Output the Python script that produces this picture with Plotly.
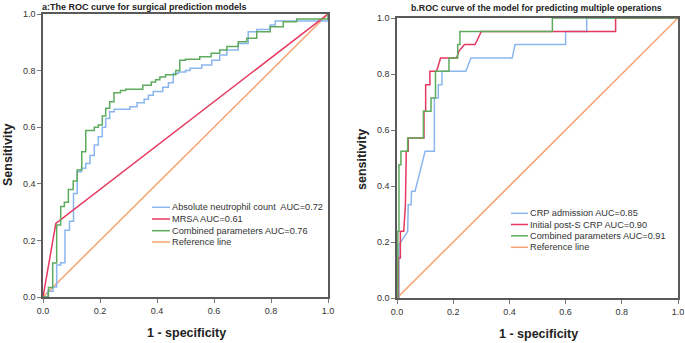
import plotly.graph_objects as go

# ---------------- Data: panel a (surgical prediction) ----------------
a_anc_fpr = [0, 0.017, 0.035, 0.048, 0.062, 0.077, 0.093, 0.107, 0.12, 0.135, 0.15, 0.165, 0.18, 0.194,
             0.208, 0.22, 0.234, 0.25, 0.305, 0.33, 0.355, 0.37, 0.387, 0.42, 0.44, 0.457, 0.475, 0.5,
             0.516, 0.557, 0.592, 0.62, 0.645, 0.685, 0.72, 0.75, 0.797, 0.815, 1.0]
a_anc_tpr = [0, 0.02, 0.035, 0.113, 0.121, 0.236, 0.268, 0.366, 0.443, 0.455, 0.472, 0.5, 0.537, 0.566,
             0.6, 0.631, 0.655, 0.663, 0.672, 0.686, 0.699, 0.713, 0.726, 0.741, 0.757, 0.79, 0.795, 0.8,
             0.808, 0.82, 0.837, 0.855, 0.873, 0.896, 0.937, 0.945, 0.961, 0.975, 1.0]
a_mrsa_fpr = [0, 0.045, 1.0]
a_mrsa_tpr = [0, 0.26, 1.0]
a_comb_fpr = [0, 0.019, 0.034, 0.048, 0.062, 0.075, 0.089, 0.106, 0.12, 0.136, 0.15, 0.18, 0.194, 0.208,
              0.22, 0.234, 0.249, 0.272, 0.29, 0.35, 0.38, 0.395, 0.41, 0.43, 0.466, 0.48, 0.5, 0.55,
              0.59, 0.62, 0.645, 0.685, 0.715, 0.75, 0.797, 0.843, 0.89, 1.0]
a_comb_tpr = [0, 0.034, 0.12, 0.254, 0.32, 0.335, 0.38, 0.41, 0.449, 0.513, 0.588, 0.6, 0.608, 0.64,
              0.667, 0.69, 0.722, 0.73, 0.734, 0.748, 0.76, 0.768, 0.777, 0.785, 0.8, 0.837, 0.84, 0.849,
              0.861, 0.873, 0.885, 0.902, 0.914, 0.937, 0.955, 0.973, 0.982, 1.0]
ref_x = [0, 1]
ref_y = [0, 1]

a_labels = ["Absolute neutrophil count  AUC=0.72", "MRSA AUC=0.61",
            "Combined parameters AUC=0.76", "Reference line"]

# ---------------- Data: panel b (multiple operations) ----------------
b_crp_fpr = [0, 0.007, 0.007, 0.038, 0.04, 0.05, 0.052, 0.064, 0.1, 0.133, 0.133, 0.147, 0.147, 0.16,
             0.16, 0.245, 0.263, 0.41, 0.42, 0.60, 0.60, 0.675, 0.675, 1.0]
b_crp_tpr = [0, 0, 0.19, 0.238, 0.333, 0.333, 0.381, 0.381, 0.524, 0.524, 0.714, 0.714, 0.762, 0.762,
             0.81, 0.81, 0.857, 0.857, 0.905, 0.905, 0.952, 0.952, 1.0, 1.0]
b_post_fpr = [0, 0.005, 0.005, 0.012, 0.012, 0.024, 0.03, 0.033, 0.04, 0.04, 0.096, 0.096, 0.102, 0.102,
              0.117, 0.117, 0.141, 0.155, 0.212, 0.22, 0.24, 0.278, 0.30, 0.778, 0.778, 1.0]
b_post_tpr = [0, 0, 0.143, 0.143, 0.238, 0.238, 0.333, 0.524, 0.524, 0.571, 0.571, 0.667, 0.667, 0.762,
              0.762, 0.81, 0.81, 0.857, 0.857, 0.881, 0.905, 0.905, 0.952, 0.952, 1.0, 1.0]
b_comb_fpr = [0, 0.003, 0.003, 0.007, 0.007, 0.014, 0.014, 0.038, 0.038, 0.094, 0.094, 0.121, 0.121,
              0.137, 0.137, 0.185, 0.185, 0.216, 0.216, 0.224, 0.224, 0.553, 0.553, 1.0]
b_comb_tpr = [0, 0, 0.238, 0.238, 0.476, 0.476, 0.524, 0.524, 0.571, 0.571, 0.667, 0.667, 0.714,
              0.714, 0.81, 0.81, 0.857, 0.857, 0.905, 0.905, 0.952, 0.952, 1.0, 1.0]

b_labels = ["CRP admission AUC=0.85", "Initial post-S CRP AUC=0.90",
            "Combined parameters AUC=0.91", "Reference line"]

tick_vals = [0, 0.2, 0.4, 0.6, 0.8, 1.0]
tick_text = ["0.0", "0.2", "0.4", "0.6", "0.8", "1.0"]

BLUE = "#8ab6ef"
RED = "#e5395f"
GREEN = "#5eab5e"
ORANGE = "#f7a26f"
colors = [BLUE, RED, GREEN, ORANGE]

W, H = 685, 343
FONT = "Liberation Sans, Arial, sans-serif"

fig = go.Figure()

def add(x, y, color, xa, ya, shape="linear"):
    fig.add_trace(go.Scatter(x=x, y=y, mode="lines", xaxis=xa, yaxis=ya,
                             line=dict(color=color, width=1.5, shape=shape),
                             showlegend=False, hoverinfo="skip"))

add(ref_x, ref_y, ORANGE, "x", "y")
add(a_anc_fpr, a_anc_tpr, BLUE, "x", "y", "hv")
add(a_mrsa_fpr, a_mrsa_tpr, RED, "x", "y")
add(a_comb_fpr, a_comb_tpr, GREEN, "x", "y", "hv")

add(ref_x, ref_y, ORANGE, "x2", "y2")
add(b_crp_fpr, b_crp_tpr, BLUE, "x2", "y2")
add(b_post_fpr, b_post_tpr, RED, "x2", "y2")
add(b_comb_fpr, b_comb_tpr, GREEN, "x2", "y2")

# panel pixel geometry
A = dict(l=43, r=328, t=14, b=297)
B = dict(l=397, r=678, t=18, b=298)

def dom(p):
    return [p["l"] / W, p["r"] / W], [1 - p["b"] / H, 1 - p["t"] / H]

ax_common = dict(range=[0, 1], tickvals=tick_vals, ticktext=tick_text, ticks="outside",
                 ticklen=4, tickwidth=1, tickcolor="#777", showline=True, linecolor="#5a5a5a",
                 linewidth=1.5, mirror=True, showgrid=False, zeroline=False, automargin=False,
                 tickfont=dict(family=FONT, size=9, color="#333"), fixedrange=True)

ax_a, ay_a = dom(A)
ax_b, ay_b = dom(B)
fig.update_layout(
    width=W, height=H, margin=dict(l=0, r=0, t=0, b=0, autoexpand=False),
    paper_bgcolor="white", plot_bgcolor="white",
    xaxis=dict(domain=ax_a, anchor="y", **ax_common),
    yaxis=dict(domain=ay_a, anchor="x", **ax_common),
    xaxis2=dict(domain=ax_b, anchor="y2", **ax_common),
    yaxis2=dict(domain=ay_b, anchor="x2", **ax_common),
)

def px(x):
    return x / W

def py(y):
    return 1 - y / H

ann = []
shapes = []
# titles
ann.append(dict(x=px(40), y=py(7), xref="paper", yref="paper", xanchor="left", yanchor="middle",
                text="<b>a:The ROC curve for surgical prediction models</b>", showarrow=False,
                font=dict(family=FONT, size=9, color="#222")))
ann.append(dict(x=px(536), y=py(8), xref="paper", yref="paper", xanchor="center", yanchor="middle",
                text="<b>b.ROC curve of the model for predicting multiple operations</b>", showarrow=False,
                font=dict(family=FONT, size=8.8, color="#222")))
# axis titles
for xc, yc, t in [(186, 333, "1 - specificity"), (538, 334, "1 - specificity")]:
    ann.append(dict(x=px(xc), y=py(yc), xref="paper", yref="paper", xanchor="center", yanchor="middle",
                    text="<b>%s</b>" % t, showarrow=False, font=dict(family=FONT, size=12.5, color="#222")))
for xc, yc, t in [(8, 155, "Sensitivity"), (362, 160, "sensitivity")]:
    ann.append(dict(x=px(xc), y=py(yc), xref="paper", yref="paper", xanchor="center", yanchor="middle",
                    text="<b>%s</b>" % t, showarrow=False, textangle=-90,
                    font=dict(family=FONT, size=12.5, color="#222")))

# legends
def legend(labels, x0, x1, tx, ys):
    for lab, c, yy in zip(labels, colors, ys):
        shapes.append(dict(type="line", xref="paper", yref="paper", x0=px(x0), x1=px(x1),
                           y0=py(yy), y1=py(yy), line=dict(color=c, width=1.5)))
        ann.append(dict(x=px(tx), y=py(yy), xref="paper", yref="paper", xanchor="left", yanchor="middle",
                        text=lab, showarrow=False, font=dict(family=FONT, size=9.2, color="#333")))

legend(a_labels, 152, 170, 170, [207.3, 219, 230.7, 242])
legend(b_labels, 511, 528, 528, [213.3, 224.5, 235.8, 247.3])

fig.update_layout(annotations=ann, shapes=shapes)
fig.write_html("out.html", config={"displayModeBar": False},
               post_script="document.body.style.margin='0px';document.body.style.overflow='hidden';")
